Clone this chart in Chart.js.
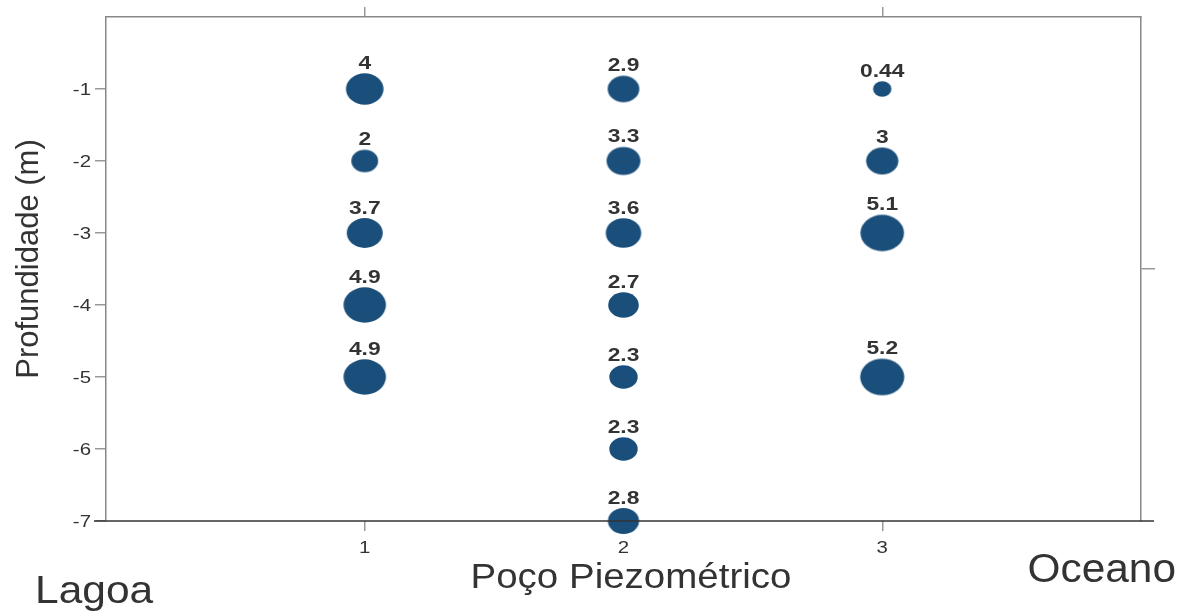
<!DOCTYPE html>
<html>
<head>
<meta charset="utf-8">
<script src="https://cdn.jsdelivr.net/npm/chart.js@4.4.1/dist/chart.umd.min.js"></script>
<style>
  body { margin: 0; background: #fff; }
  #chart { display: block; }
</style>
</head>
<body>
<canvas id="chart" width="1186" height="612"></canvas>
<script>
// Poços piezométricos (eixo x) e profundidades (eixo y)
const xTicks = [1, 2, 3];
const yTicks = [-7, -6, -5, -4, -3, -2, -1];

const poco1Depth = [-1, -2, -3, -4, -5];
const poco1Value = [4, 2, 3.7, 4.9, 4.9];

const poco2Depth = [-1, -2, -3, -4, -5, -6, -7];
const poco2Value = [2.9, 3.3, 3.6, 2.7, 2.3, 2.3, 2.8];

const poco3Depth = [-1, -2, -3, -5];
const poco3Value = [0.44, 3, 5.1, 5.2];

const FONT = "'Liberation Sans', Arial, Helvetica, sans-serif";
const BUBBLE = '#1b4f7b';
const TEXT = '#333';
const STRETCH = 1.2; // the original picture is a bit wider than tall

// horizontal radius grows with the value, marks are slightly wide ellipses
function radiusX(v) { return 8 + 2.7 * v; }
function radiusY(v) { return radiusX(v) / STRETCH; }

const ellipseCache = {};
function ellipseImage(v) {
  if (ellipseCache[v]) return ellipseCache[v];
  const rx = radiusX(v), ry = radiusY(v);
  const c = document.createElement('canvas');
  c.width = Math.ceil(rx * 2) + 2;
  c.height = Math.ceil(ry * 2) + 2;
  const g = c.getContext('2d');
  g.fillStyle = BUBBLE;
  g.beginPath();
  g.ellipse(c.width / 2, c.height / 2, rx, ry, 0, 0, Math.PI * 2);
  g.fill();
  ellipseCache[v] = c;
  return c;
}

function points(x, depths, values) {
  return depths.map((d, i) => ({ x: x, y: d, r: values[i], v: values[i] }));
}

const allPoints = []
  .concat(points(xTicks[0], poco1Depth, poco1Value))
  .concat(points(xTicks[1], poco2Depth, poco2Value))
  .concat(points(xTicks[2], poco3Depth, poco3Value));

function wideText(ctx, text, x, y, sx) {
  ctx.save();
  ctx.translate(x, y);
  ctx.scale(sx, 1);
  ctx.fillText(text, 0, 0);
  ctx.restore();
}

// value labels, tick labels, bottom line and the free texts
const extras = {
  id: 'extras',
  afterDatasetsDraw(chart) {
    const ctx = chart.ctx;
    const area = chart.chartArea;
    ctx.save();
    ctx.strokeStyle = '#333';
    ctx.lineWidth = 1.5;
    ctx.beginPath();
    ctx.moveTo(area.left - 12, area.bottom);
    ctx.lineTo(area.right + 13, area.bottom);
    ctx.stroke();

    ctx.fillStyle = TEXT;
    ctx.textBaseline = 'alphabetic';

    ctx.font = 'bold 19px ' + FONT;
    ctx.textAlign = 'center';
    chart.getDatasetMeta(0).data.forEach((el, i) => {
      const v = allPoints[i].v;
      wideText(ctx, String(v), el.x, el.y - radiusY(v) - 4.5, STRETCH);
    });

    ctx.font = '17px ' + FONT;
    const sx = chart.scales.x, sy = chart.scales.y;
    sx.ticks.forEach(t => {
      wideText(ctx, String(t.value), sx.getPixelForValue(t.value), area.bottom + 32, STRETCH);
    });
    ctx.textAlign = 'right';
    sy.ticks.forEach(t => {
      ctx.save();
      ctx.translate(area.left - 15, sy.getPixelForValue(t.value) + 6);
      ctx.scale(STRETCH, 1);
      ctx.fillText(String(t.value), 0, 0);
      ctx.restore();
    });

    ctx.textAlign = 'center';
    ctx.font = '35px ' + FONT;
    wideText(ctx, 'Poço Piezométrico', 631, 588, 1.1);

    ctx.font = '39px ' + FONT;
    ctx.textAlign = 'left';
    wideText(ctx, 'Lagoa', 35, 603, 1.09);
    ctx.textAlign = 'right';
    ctx.font = '40px ' + FONT;
    wideText(ctx, 'Oceano', 1176, 582, 1.06);

    ctx.save();
    ctx.translate(38, 259);
    ctx.rotate(-Math.PI / 2);
    ctx.textAlign = 'center';
    ctx.font = '31px ' + FONT;
    ctx.fillText('Profundidade (m)', 0, 0);
    ctx.restore();
    ctx.restore();
  }
};

new Chart(document.getElementById('chart'), {
  type: 'bubble',
  data: {
    datasets: [{
      data: allPoints,
      backgroundColor: BUBBLE,
      borderWidth: 0,
      pointStyle: ctx => ellipseImage(ctx.raw.v),
      clip: false
    }]
  },
  options: {
    responsive: false,
    animation: false,
    layout: { padding: 0 },
    plugins: { legend: { display: false }, tooltip: { enabled: false } },
    scales: {
      x: {
        type: 'linear', position: 'bottom', min: 0, max: 4, z: 1,
        afterBuildTicks: s => { s.ticks = xTicks.map(v => ({ value: v })); },
        afterFit: s => { s.height = 91; },
        border: { display: false },
        grid: { drawOnChartArea: false, tickLength: 10, color: '#999', lineWidth: 1.5 },
        ticks: { display: false }
      },
      xTop: {
        type: 'linear', position: 'top', min: 0, max: 4,
        afterBuildTicks: s => { s.ticks = [{ value: 1 }, { value: 3 }]; },
        afterFit: s => { s.height = 17; },
        border: { color: '#888', width: 1.5 },
        grid: { drawOnChartArea: false, tickLength: 10, color: '#999', lineWidth: 1.5 },
        ticks: { display: false }
      },
      y: {
        type: 'linear', position: 'left', min: -7, max: 0,
        afterBuildTicks: s => { s.ticks = yTicks.map(v => ({ value: v })); },
        afterFit: s => { s.width = 106; },
        border: { color: '#888', width: 1.5 },
        grid: { drawOnChartArea: false, tickLength: 11, color: '#999', lineWidth: 1.5 },
        ticks: { display: false }
      },
      yRight: {
        type: 'linear', position: 'right', min: -7, max: 0,
        afterBuildTicks: s => { s.ticks = [{ value: -3.5 }]; },
        afterFit: s => { s.width = 45; },
        border: { color: '#888', width: 1.5 },
        grid: { drawOnChartArea: false, tickLength: 14, color: '#999', lineWidth: 1.5 },
        ticks: { display: false }
      }
    }
  },
  plugins: [extras]
});
</script>
</body>
</html>
